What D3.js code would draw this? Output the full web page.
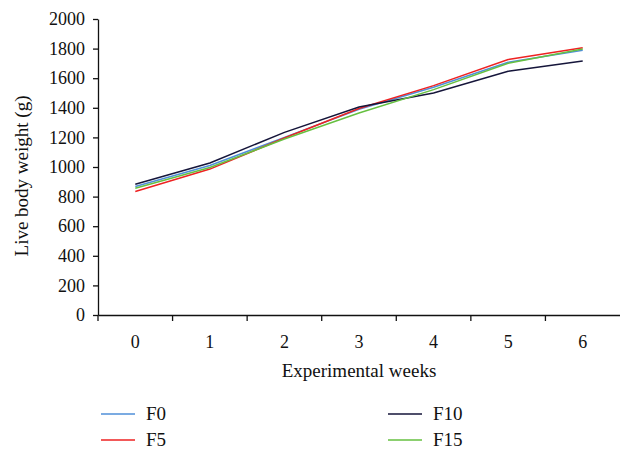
<!DOCTYPE html>
<html>
<head>
<meta charset="utf-8">
<script src="https://cdn.jsdelivr.net/npm/d3@7"></script>
<style>
  body { margin: 0; background: #fff; }
</style>
</head>
<body>
<div id="field"></div>
<script>
'use strict';

// データ
const weeks = [0, 1, 2, 3, 4, 5, 6];
const yTicks = [0, 200, 400, 600, 800, 1000, 1200, 1400, 1600, 1800, 2000];
const seriesNames = ['F0', 'F5', 'F10', 'F15'];
const seriesColors = ['#4f8fd8', '#ee2222', '#15153a', '#66c040'];
const f0 = [868, 1010, 1200, 1390, 1539, 1708, 1789];
const f5 = [835, 986, 1196, 1395, 1550, 1726, 1805];
const f10 = [884, 1027, 1234, 1405, 1500, 1647, 1717];
const f15 = [857, 997, 1189, 1365, 1523, 1701, 1798];
const values = [f0, f5, f10, f15];

const w = 620, h = 449,
      mLeft = 98, mRight = 620, mTop = 19, mBottom = 315,
      serif = 'Liberation Serif, DejaVu Serif, serif';

const svg = d3.select('#field').append('svg')
  .attr('width', w).attr('height', h)
  .attr('font-family', serif);

const xScale = d3.scaleBand().domain(weeks).range([mLeft, mRight]),
      yScale = d3.scaleLinear().domain([0, 2000]).range([mBottom, mTop]);

// y軸
const yAxis = svg.append('g')
  .attr('transform', 'translate(' + mLeft + ',0)')
  .call(d3.axisLeft(yScale).tickValues(yTicks).tickFormat(d3.format('d'))
    .tickSize(5).tickPadding(8).tickSizeOuter(0))
  .attr('font-family', serif).attr('font-size', '18px');
yAxis.select('.domain').attr('stroke', '#111').attr('stroke-width', 1.3);
yAxis.selectAll('.tick line').attr('stroke', '#111').attr('stroke-width', 1.3);
yAxis.selectAll('text').attr('fill', '#111');

// x軸 (目盛りはカテゴリ境界)
const xAxis = svg.append('g')
  .attr('transform', 'translate(0,' + mBottom + ')')
  .call(d3.axisBottom(xScale).tickSize(0).tickPadding(20))
  .attr('font-family', serif).attr('font-size', '18px');
xAxis.select('.domain').attr('stroke', '#111').attr('stroke-width', 1.3);
xAxis.selectAll('text').attr('fill', '#111');
xAxis.selectAll('.bound')
  .data(weeks)
  .enter().append('line')
  .attr('class', 'bound')
  .attr('x1', function(d){ return xScale(d); })
  .attr('x2', function(d){ return xScale(d); })
  .attr('y1', 0)
  .attr('y2', 6)
  .attr('stroke', '#111')
  .attr('stroke-width', 1.3);

// 軸タイトル
svg.append('text')
  .attr('transform', 'translate(28,' + ((mTop + mBottom) / 2 + 9) + ') rotate(-90)')
  .attr('text-anchor', 'middle')
  .attr('font-size', '19px')
  .attr('fill', '#111')
  .text('Live body weight (g)');

svg.append('text')
  .attr('x', (mLeft + mRight) / 2)
  .attr('y', 377)
  .attr('text-anchor', 'middle')
  .attr('font-size', '19px')
  .attr('fill', '#111')
  .text('Experimental weeks');

// 折れ線
const line = d3.line()
  .x(function(d, i){ return xScale(weeks[i]) + xScale.bandwidth() / 2; })
  .y(function(d){ return yScale(d); });

svg.selectAll('.series')
  .data(values)
  .enter().append('path')
  .attr('class', 'series')
  .attr('d', line)
  .attr('fill', 'none')
  .attr('stroke', function(d, i){ return seriesColors[i]; })
  .attr('stroke-width', 1.5);

// 凡例
const legend = svg.selectAll('.legend')
  .data(seriesNames)
  .enter().append('g')
  .attr('class', 'legend')
  .attr('transform', function(d, i){
    const col = i < 2 ? 0 : 1, row = i % 2;
    return 'translate(' + (101 + col * 287) + ',' + (414 + row * 26) + ')';
  });
legend.append('line')
  .attr('x1', 0).attr('x2', 34)
  .attr('stroke', function(d){ return seriesColors[seriesNames.indexOf(d)]; })
  .attr('stroke-width', 1.5);
legend.append('text')
  .attr('x', 45)
  .attr('y', 6)
  .attr('font-size', '19px')
  .attr('fill', '#111')
  .text(function(d){ return d; });
</script>
</body>
</html>
